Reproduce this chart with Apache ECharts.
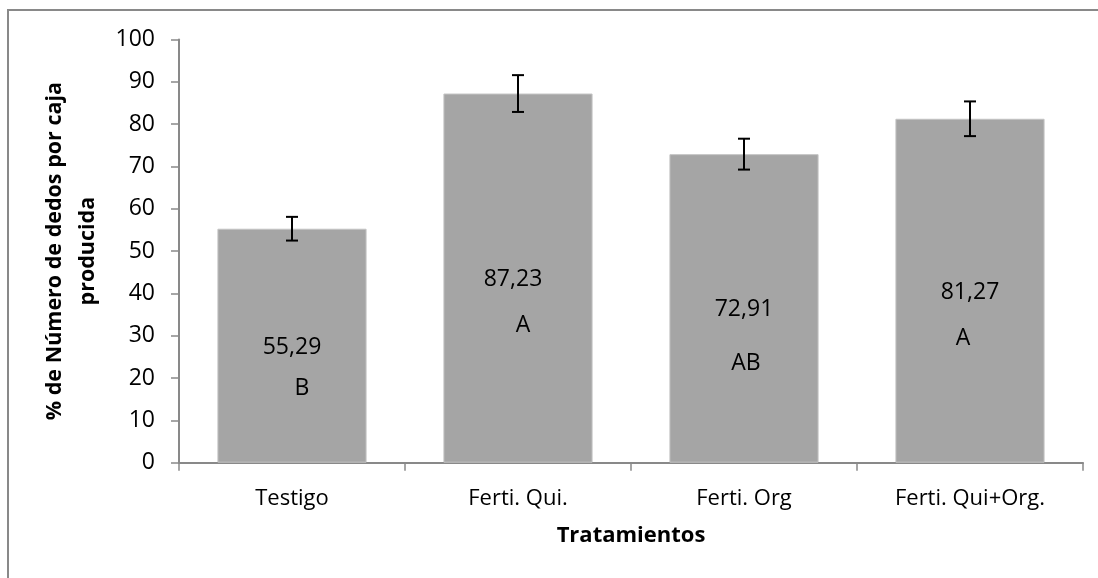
<!DOCTYPE html>
<html>
<head>
<meta charset="utf-8">
<script src="https://cdn.jsdelivr.net/npm/echarts@6/dist/echarts.min.js"></script>
<style>
  html, body { margin: 0; padding: 0; background: #fff; }
  #chart { width: 1098px; height: 578px; }
</style>
</head>
<body>
<div id="chart"></div>
<script>
// ---- data ----
const categories = ['Testigo', 'Ferti. Qui.', 'Ferti. Org', 'Ferti. Qui+Org.'];
const values = [55.29, 87.23, 72.91, 81.27];
const errors = [2.8, 4.35, 3.65, 4.1];
const valueTexts = ['55,29', '87,23', '72,91', '81,27'];
const letters = ['B', 'A', 'AB', 'A'];
const yTicks = [0, 10, 20, 30, 40, 50, 60, 70, 80, 90, 100];
const yTitle = '% de Número de dedos por caja\nproducida';
const xTitle = 'Tratamientos';

// label anchors inside the bars (value units on the y axis)
const valueLabelAt = [27.25, 43.2, 36.25, 40.3];
const letterLabelAt = [17.6, 32.5, 23.5, 29.4];
const valueLabelDx = [0, -5, 0, 0];
const letterLabelDx = [10, 5, 2, -7];

const FONT = 'Open Sans';
const AXIS_COLOR = '#898989';

const chart = echarts.init(document.getElementById('chart'), null, { renderer: 'canvas' });

const option = {
  animation: false,
  backgroundColor: '#fff',
  textStyle: { fontFamily: FONT },
  graphic: [{
    type: 'rect',
    shape: { x: 8, y: 10, width: 1200, height: 700 },
    style: { fill: 'none', stroke: AXIS_COLOR, lineWidth: 2 },
    silent: true, z: -1
  }],
  grid: { left: 179, right: 15, top: 39.5, bottom: 115.3 },
  xAxis: {
    type: 'category',
    data: categories,
    name: xTitle,
    nameLocation: 'middle',
    nameGap: 62,
    nameTextStyle: { fontFamily: FONT, fontSize: 22, fontWeight: 'bold', color: '#000' },
    axisLine: { show: true, lineStyle: { color: AXIS_COLOR, width: 2 } },
    axisTick: { show: true, length: 8, alignWithLabel: false, lineStyle: { color: AXIS_COLOR, width: 1.5 } },
    axisLabel: { fontFamily: FONT, fontSize: 22, color: '#000', margin: 25 },
    splitLine: { show: false }
  },
  yAxis: {
    type: 'value',
    min: yTicks[0],
    max: yTicks[yTicks.length - 1],
    interval: yTicks[1] - yTicks[0],
    name: yTitle,
    nameLocation: 'middle',
    nameGap: 68,
    nameTextStyle: { fontFamily: FONT, fontSize: 21.5, fontWeight: 'bold', color: '#000', lineHeight: 33, align: 'center' },
    axisLine: { show: true, lineStyle: { color: AXIS_COLOR, width: 2 } },
    axisTick: { show: true, length: 8, lineStyle: { color: AXIS_COLOR, width: 1.5 } },
    axisLabel: { fontFamily: FONT, fontSize: 23, color: '#000', margin: 24 },
    splitLine: { show: false }
  },
  series: [
    {
      type: 'bar',
      data: values,
      barWidth: '66%',
      itemStyle: { color: '#A5A5A5', borderColor: '#C4C4C4', borderWidth: 1 },
      z: 2
    },
    {
      type: 'custom',
      data: values.map((v, i) => [i, v - errors[i], v + errors[i]]),
      renderItem: function (params, api) {
        const x = api.value(0);
        const lo = api.coord([x, api.value(1)]);
        const hi = api.coord([x, api.value(2)]);
        const cap = 6;
        const style = { stroke: '#000', lineWidth: 2 };
        return {
          type: 'group',
          children: [
            { type: 'line', shape: { x1: hi[0], y1: hi[1], x2: lo[0], y2: lo[1] }, style },
            { type: 'line', shape: { x1: hi[0] - cap, y1: hi[1], x2: hi[0] + cap, y2: hi[1] }, style },
            { type: 'line', shape: { x1: lo[0] - cap, y1: lo[1], x2: lo[0] + cap, y2: lo[1] }, style }
          ]
        };
      },
      z: 5
    },
    {
      type: 'custom',
      data: categories.map((c, i) => [i, valueLabelAt[i], letterLabelAt[i]]),
      renderItem: function (params, api) {
        const i = params.dataIndex;
        const x = api.value(0);
        const p1 = api.coord([x, api.value(1)]);
        const p2 = api.coord([x, api.value(2)]);
        const font = '23px "' + FONT + '"';
        return {
          type: 'group',
          children: [
            { type: 'text', x: p1[0] + valueLabelDx[i], y: p1[1],
              style: { text: valueTexts[i], font: font, fill: '#000', align: 'center', verticalAlign: 'middle' } },
            { type: 'text', x: p2[0] + letterLabelDx[i], y: p2[1],
              style: { text: letters[i], font: font, fill: '#000', align: 'center', verticalAlign: 'middle' } }
          ]
        };
      },
      z: 6
    }
  ]
};

chart.setOption(option);
</script>
</body>
</html>
